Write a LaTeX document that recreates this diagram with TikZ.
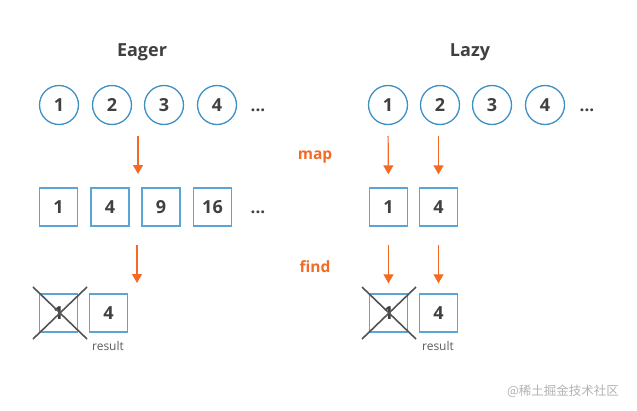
\documentclass[tikz,border=0pt]{standalone}
\usepackage{fontspec}
\setmainfont{Open Sans}
\newfontfamily\cjk{Noto Sans CJK SC}
\usetikzlibrary{arrows.meta}
\definecolor{cblue}{HTML}{3D8FC4}
\definecolor{sblue}{HTML}{5AA5D6}
\definecolor{corange}{HTML}{F26A24}
\definecolor{ctext}{HTML}{404040}
\tikzset{
  item/.style={circle, draw=cblue, line width=1.3pt, minimum size=39pt, inner sep=0pt,
    text=ctext, font=\fontsize{18}{18}\selectfont\bfseries},
  cell/.style={rectangle, draw=sblue, line width=1.4pt, minimum size=38pt, inner sep=0pt,
    text=ctext, font=\fontsize{18}{18}\selectfont\bfseries},
  title/.style={text=ctext, font=\fontsize{18}{18}\selectfont\bfseries},
  dots/.style={text=ctext, font=\fontsize{17}{17}\selectfont\bfseries},
  oplabel/.style={text=corange, font=\fontsize{15.5}{15.5}\selectfont\bfseries},
  small/.style={text=ctext!85, font=\fontsize{12}{12}\selectfont},
  flow/.style={draw=corange, line width=1.2pt, -{Triangle[length=9pt,width=10pt]}},
  cross/.style={draw=ctext!90, line width=1.6pt},
}
\begin{document}
\begin{tikzpicture}[x=1pt,y=-1pt]
\useasboundingbox (0,0) rectangle (637,410);
% titles
\node[title] (teager) at (142,52) {Eager};
\node[title] (tlazy) at (470,52) {Lazy};
% eager circles
\node[item] (ec1) at (59,105) {1};
\node[item] (ec2) at (112,105) {2};
\node[item] (ec3) at (164,105) {3};
\node[item] (ec4) at (217,105) {4};
\node[dots] (ecd) at (258,110) {...};
% lazy circles
\node[item] (lc1) at (388,105) {1};
\node[item] (lc2) at (440,105) {2};
\node[item] (lc3) at (492,105) {3};
\node[item] (lc4) at (545,105) {4};
\node[dots] (lcd) at (587,110) {...};
% eager squares
\node[cell] (es1) at (58.5,207) {1};
\node[cell] (es2) at (110,207) {4};
\node[cell] (es3) at (161,207) {9};
\node[cell] (es4) at (212.5,207) {16};
\node[dots] (esd) at (258,212) {...};
% lazy squares
\node[cell] (ls1) at (388.5,207) {1};
\node[cell] (ls2) at (438.5,207) {4};
% eager result row
\node[cell] (er1) at (58.5,313) {1};
\node[cell] (er2) at (108.5,313) {4};
\node[small] (eres) at (108,346) {result};
% lazy result row
\node[cell] (lr1) at (388.5,313) {1};
\node[cell] (lr2) at (438.5,313) {4};
\node[small] (lres) at (438,346) {result};
% crosses
\draw[cross] (33,287) -- (87,339);
\draw[cross] (33,339) -- (87,287);
\draw[cross] (362,287) -- (416,339);
\draw[cross] (362,339) -- (416,287);
% labels
\node[oplabel] (lmap) at (315,157) {map};
\node[oplabel] (lfind) at (315,267) {find};
% arrows
\coordinate (ema) at (138,136);
\coordinate (emb) at (138,174);
\coordinate (efa) at (137,245);
\coordinate (efb) at (137,283);
\draw[flow] (ema) -- (emb);
\draw[flow] (efa) -- (efb);
\draw[flow, shorten <=11pt, shorten >=13pt] (lc1.south) -- (ls1.north);
\draw[flow, shorten <=11pt, shorten >=13pt] (lc2.south -| ls2.north) -- (ls2.north);
\draw[flow, shorten <=18pt, shorten >=10pt] (ls1.south) -- (lr1.north);
\draw[flow, shorten <=18pt, shorten >=10pt] (ls2.south) -- (lr2.north);
% watermark
\node[text=black!30, font=\cjk\fontsize{12.5}{12.5}\selectfont] (wm) at (563,391) {@稀土掘金技术社区};
\end{tikzpicture}
\end{document}
